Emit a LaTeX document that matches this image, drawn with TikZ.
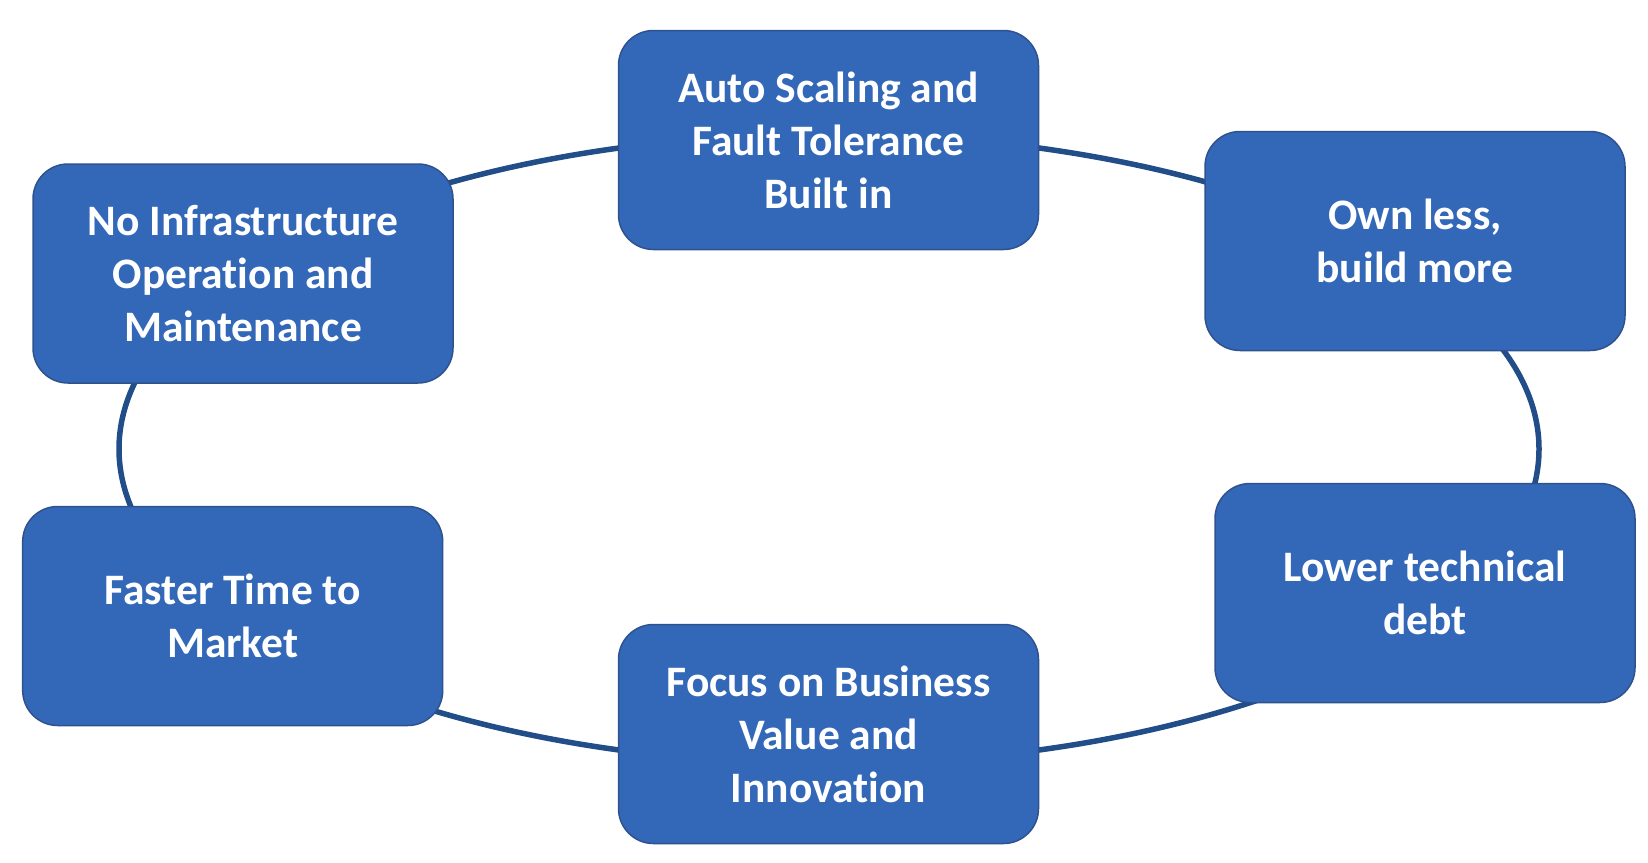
\documentclass[tikz,border=0pt]{standalone}
\usepackage{fontspec}
\setmainfont{Carlito}[Ligatures=NoCommon]
\definecolor{boxfill}{HTML}{3268B7}
\definecolor{boxline}{HTML}{2F528F}
\definecolor{ringline}{HTML}{214D89}
\begin{document}
\begin{tikzpicture}[x=1pt,y=-1pt,
  card/.style={draw=boxline, line width=1.5pt, fill=boxfill, rounded corners=35pt,
    minimum width=420pt, minimum height=219pt, align=center, text=white,
    font=\fontsize{43.5}{53}\selectfont\bfseries, inner sep=0pt},
  ring/.style={draw=ringline, line width=5.5pt}]
\useasboundingbox (0,0) rectangle (1648,862);
\coordinate (ctr) at (829,449);
\draw[ring] (ctr) ellipse [x radius=710pt, y radius=315pt];
\node[card] (auto) at (828.5,140) {Auto Scaling and\\Fault Tolerance\\Built in};
\node[card] (noinfra) at (243,273.5) {No Infrastructure\\Operation and\\Maintenance};
\node[card] (own) at (1415,241) {Own less,\\build more};
\node[card] (lower) at (1425,593) {Lower technical\\debt};
\node[card] (faster) at (232.7,616) {Faster Time to\\Market};
\node[card] (focus) at (828.5,734) {Focus on Business\\Value and\\Innovation};
\end{tikzpicture}
\end{document}
